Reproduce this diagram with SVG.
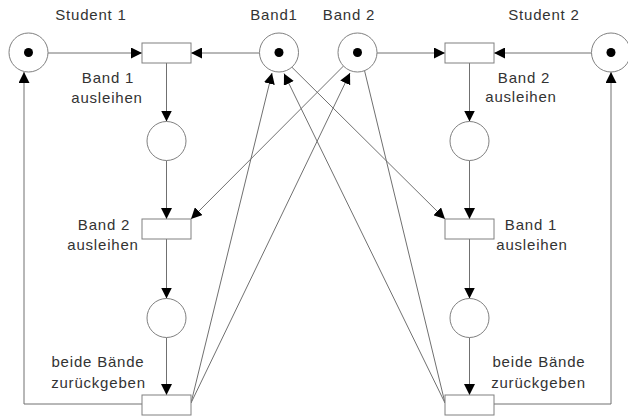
<svg xmlns="http://www.w3.org/2000/svg" width="628" height="416" viewBox="0 0 628 416">
<style>
  .place { fill: #fff; stroke: #808080; stroke-width: 1; }
  .token { fill: #000; }
  .trans { fill: #fff; stroke: #808080; stroke-width: 1; }
  .arc { fill: none; stroke: #707070; stroke-width: 1; }
  .lbl { font-family: "Liberation Sans", Arial, sans-serif; font-size: 15px; letter-spacing: 0.8px; fill: #333; text-anchor: middle; }
</style>
<defs>
  <marker id="ah" markerUnits="userSpaceOnUse" markerWidth="11" markerHeight="11" refX="11" refY="5.5" orient="auto">
    <path d="M0,0 L11,5.5 L0,11 z" fill="#000"/>
  </marker>
</defs>
<rect width="628" height="416" fill="#fff"/>

<g id="connectors">
  <line class="arc" x1="48" y1="53" x2="142" y2="53" marker-end="url(#ah)"/>
  <line class="arc" x1="259.5" y1="53" x2="191" y2="53" marker-end="url(#ah)"/>
  <line class="arc" x1="377" y1="53" x2="445" y2="53" marker-end="url(#ah)"/>
  <line class="arc" x1="591.5" y1="53" x2="494" y2="53" marker-end="url(#ah)"/>

  <line class="arc" x1="166.5" y1="63" x2="166.5" y2="121.5" marker-end="url(#ah)"/>
  <line class="arc" x1="166.5" y1="160.5" x2="166.5" y2="219" marker-end="url(#ah)"/>
  <line class="arc" x1="166.5" y1="239" x2="166.5" y2="298.5" marker-end="url(#ah)"/>
  <line class="arc" x1="166.5" y1="337.5" x2="166.5" y2="395" marker-end="url(#ah)"/>

  <line class="arc" x1="469.5" y1="63" x2="469.5" y2="121.5" marker-end="url(#ah)"/>
  <line class="arc" x1="469.5" y1="160.5" x2="469.5" y2="219" marker-end="url(#ah)"/>
  <line class="arc" x1="469.5" y1="239" x2="469.5" y2="298.5" marker-end="url(#ah)"/>
  <line class="arc" x1="469.5" y1="337.5" x2="469.5" y2="395" marker-end="url(#ah)"/>

  <polyline class="arc" points="142,404 24,404 24,72" marker-end="url(#ah)"/>
  <polyline class="arc" points="494,404 611,404 611,72" marker-end="url(#ah)"/>

  <line class="arc" x1="291.7" y1="67" x2="445" y2="219" marker-end="url(#ah)"/>
  <line class="arc" x1="343.5" y1="66" x2="191" y2="219" marker-end="url(#ah)"/>

  <line class="arc" x1="191" y1="403" x2="272" y2="73" marker-end="url(#ah)"/>
  <line class="arc" x1="191" y1="403" x2="350" y2="73" marker-end="url(#ah)"/>
  <line class="arc" x1="445" y1="403" x2="284" y2="73.5" marker-end="url(#ah)"/>
  <line class="arc" x1="445" y1="403" x2="364.5" y2="70.5"/>
</g>

<g id="p-student1"><circle class="place" cx="28.5" cy="52.5" r="19.5"/><circle class="token" cx="28.5" cy="52.5" r="4.5"/><text class="lbl" x="91" y="20">Student 1</text></g>
<g id="p-band1"><circle class="place" cx="279" cy="52.5" r="19.5"/><circle class="token" cx="279" cy="52.5" r="4.5"/><text class="lbl" x="274" y="20">Band1</text></g>
<g id="p-band2"><circle class="place" cx="357.5" cy="52.5" r="19.5"/><circle class="token" cx="357.5" cy="52.5" r="4.5"/><text class="lbl" x="349" y="20">Band 2</text></g>
<g id="p-student2"><circle class="place" cx="611" cy="52.5" r="19.5"/><circle class="token" cx="611" cy="52.5" r="4.5"/><text class="lbl" x="544" y="20">Student 2</text></g>

<g id="p-l1"><circle class="place" cx="166.5" cy="141" r="19.5"/></g>
<g id="p-l2"><circle class="place" cx="166.5" cy="318" r="19.5"/></g>
<g id="p-r1"><circle class="place" cx="469.5" cy="141" r="19.5"/></g>
<g id="p-r2"><circle class="place" cx="469.5" cy="318" r="19.5"/></g>

<g id="t-l1"><rect class="trans" x="142" y="43" width="49" height="20"/><text class="lbl" x="108" y="83">Band 1</text><text class="lbl" x="107" y="103">ausleihen</text></g>
<g id="t-l2"><rect class="trans" x="142" y="219" width="49" height="20"/><text class="lbl" x="104" y="230">Band 2</text><text class="lbl" x="103" y="250">ausleihen</text></g>
<g id="t-l3"><rect class="trans" x="142" y="395" width="49" height="20"/><text class="lbl" x="98" y="367">beide Bände</text><text class="lbl" x="98.5" y="388">zurückgeben</text></g>

<g id="t-r1"><rect class="trans" x="445" y="43" width="49" height="20"/><text class="lbl" x="524" y="83">Band 2</text><text class="lbl" x="521" y="102">ausleihen</text></g>
<g id="t-r2"><rect class="trans" x="445" y="219" width="49" height="20"/><text class="lbl" x="531" y="230">Band 1</text><text class="lbl" x="532" y="250">ausleihen</text></g>
<g id="t-r3"><rect class="trans" x="445" y="395" width="49" height="20"/><text class="lbl" x="539" y="367">beide Bände</text><text class="lbl" x="538.5" y="388">zurückgeben</text></g>
</svg>
